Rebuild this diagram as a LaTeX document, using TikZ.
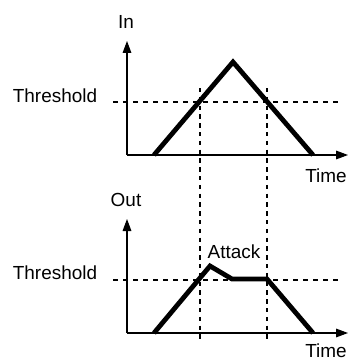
\documentclass[tikz,border=0pt]{standalone}
\usepackage{fontspec}
\setmainfont{Liberation Sans}
\usetikzlibrary{arrows.meta}

\begin{document}
\begin{tikzpicture}[x=0.75pt, y=-0.75pt,
        lbl/.style={font=\fontsize{14.2pt}{16pt}\selectfont, inner sep=0pt},
        axis/.style={-{Triangle[length=9pt, width=6.5pt]}, line width=0.8pt},
        sig/.style={line width=3.6pt, line join=miter},
        thr/.style={dashed, dash pattern=on 3.75pt off 3.75pt, line width=1.1pt},
        mark line/.style={dashed, dash pattern=on 3.3pt off 3.3pt, line width=0.9pt}
      ]
        \useasboundingbox (0,0) rectangle (349,360);
        % input graph
        \coordinate (o1) at (127,155);
        \coordinate (y1) at (127,41);
        \coordinate (x1) at (348,155);
        \node[lbl] (in)    at (126,22)  {In};
        \node[lbl] (time1) at (326,176) {Time};
        \node[lbl] (th1)   at (55,96)   {Threshold};
        \coordinate (t1a) at (113,102);
        \coordinate (t1b) at (340,102);
        \draw[axis] (o1)--(y1);
        \draw[axis] (o1)--(x1);
        \draw[thr] (t1a)--(t1b);
        \coordinate (a1) at (154,155);
        \coordinate (p1) at (233,62);
        \coordinate (b1) at (313,155);
        \draw[sig] (a1)--(p1)--(b1);
        % output graph
        \coordinate (o2) at (127,333);
        \coordinate (y2) at (127,219);
        \coordinate (x2) at (348,333);
        \node[lbl] (out)   at (126,200) {Out};
        \node[lbl] (time2) at (326,351) {Time};
        \node[lbl] (th2)   at (55,273)  {Threshold};
        \node[lbl] (att)   at (234,252) {Attack};
        \coordinate (t2a) at (113,280);
        \coordinate (t2b) at (340,280);
        \draw[axis] (o2)--(y2);
        \draw[axis] (o2)--(x2);
        \draw[thr] (t2a)--(t2b);
        \coordinate (a2) at (154,333);
        \coordinate (p2) at (210,266);
        \coordinate (c2) at (232,279);
        \coordinate (d2) at (267,279);
        \coordinate (b2) at (313,333);
        \draw[sig] (a2)--(p2)--(c2)--(d2)--(b2);
        % markers
        \coordinate (m1a) at (200,88);
        \coordinate (m1b) at (200,343);
        \coordinate (m2a) at (267,88);
        \coordinate (m2b) at (267,343);
        \draw[mark line] (m1a)--(m1b);
        \draw[mark line] (m2a)--(m2b);
      \end{tikzpicture}
\end{document}
